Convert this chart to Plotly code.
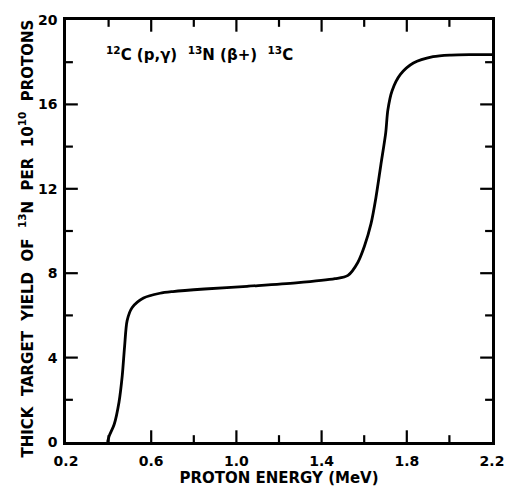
import plotly.graph_objects as go

energy = [0.395, 0.403, 0.426, 0.449, 0.464, 0.475, 0.487, 0.51, 0.564, 0.641, 0.702, 0.85, 1.05, 1.28, 1.463, 1.524, 1.570, 1.601, 1.632, 1.655, 1.678, 1.701, 1.711, 1.731, 1.770, 1.831, 1.923, 2.008, 2.10, 2.20]
yield_ = [0.0, 0.29, 0.83, 1.9, 3.13, 4.52, 5.75, 6.36, 6.82, 7.05, 7.13, 7.25, 7.38, 7.54, 7.74, 7.9, 8.51, 9.28, 10.35, 11.58, 13.12, 14.65, 15.73, 16.65, 17.42, 17.96, 18.26, 18.34, 18.36, 18.36]

x_labels = [0.2, 0.6, 1.0, 1.4, 1.8, 2.2]
x_major_ticks = [0.6, 1.0, 1.4, 1.8]
x_minor_ticks = [0.4, 0.8, 1.2, 1.6, 2.0]
y_labels = [0, 4, 8, 12, 16, 20]
y_major_ticks = [4, 8, 12, 16]
y_minor_ticks = [2, 6, 10, 14, 18]
x_range = [0.2, 2.2]
y_range = [0, 20]

FONT = "DejaVu Sans"
MAJ, MIN = 12, 7

fig = go.Figure()
fig.add_trace(go.Scatter(x=energy, y=yield_, mode="lines",
                         line=dict(color="black", width=2.8, shape="spline", smoothing=0.8),
                         showlegend=False, hoverinfo="skip"))

xspan = x_range[1] - x_range[0]
yspan = y_range[1] - y_range[0]
PLOT_W, PLOT_H = 432, 433


def tick(xs, ys):
    fig.add_trace(go.Scatter(x=xs, y=ys, mode="lines",
                             line=dict(color="black", width=2.2, simplify=False),
                             showlegend=False, hoverinfo="skip"))


for vals, ln in ((x_major_ticks, MAJ), (x_minor_ticks, MIN)):
    d = ln / PLOT_H * yspan
    for v in vals:
        tick([v, v], [y_range[0], y_range[0] + d])
        tick([v, v], [y_range[1], y_range[1] - d])
for vals, ln in ((y_major_ticks, MAJ), (y_minor_ticks, MIN)):
    d = ln / PLOT_W * xspan
    for v in vals:
        tick([x_range[0], x_range[0] + d], [v, v])
        tick([x_range[1], x_range[1] - d], [v, v])

base = dict(showgrid=False, zeroline=False, showline=True, linecolor="black", linewidth=2.6,
            ticks="", mirror=True)

fig.update_layout(
    xaxis=dict(range=x_range, tickmode="array", tickvals=x_labels, ticktext=[f"{v:.1f}" for v in x_labels],
               tickfont=dict(family=FONT, weight="bold", size=14, color="black"), ticklabelstandoff=4,
               title=dict(text="PROTON ENERGY (MeV)", font=dict(family=FONT, weight="bold", size=15, color="black"), standoff=2),
               **base),
    yaxis=dict(range=y_range, tickmode="array", tickvals=y_labels, ticktext=[str(v) for v in y_labels],
               tickfont=dict(family=FONT, weight="bold", size=14, color="black"), ticklabelstandoff=3,
               **base),
)

fig.add_annotation(x=-0.093, y=0.483, xref="paper", yref="paper", xanchor="center", yanchor="middle",
                   textangle=-90, showarrow=False,
                   text="THICK&nbsp; TARGET&nbsp; YIELD&nbsp; OF&nbsp; <sup>13</sup>N&nbsp; PER&nbsp; 10<sup>10</sup>&nbsp; PROTONS",
                   font=dict(family=FONT, weight="bold", size=15, color="black"))

fig.add_annotation(x=0.38, y=18.4, xref="x", yref="y", xanchor="left", yanchor="middle",
                   text="<sup>12</sup>C (p,γ)&nbsp; <sup>13</sup>N (β+)&nbsp; <sup>13</sup>C", showarrow=False,
                   font=dict(family=FONT, weight="bold", size=15, color="black"))

fig.update_layout(width=516, height=493, margin=dict(l=66, r=18, t=14, b=46),
                  plot_bgcolor="white", paper_bgcolor="white")

fig.write_html("out.html")
